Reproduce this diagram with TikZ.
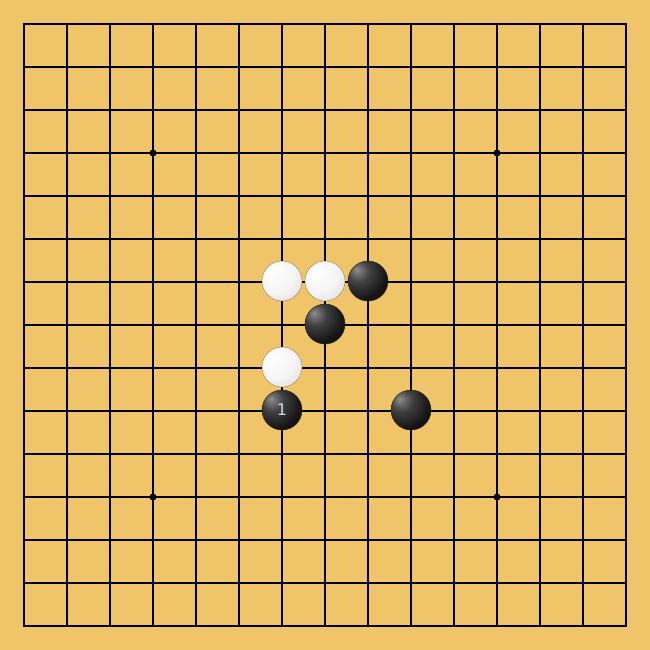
\documentclass[tikz,border=0pt]{standalone}
\usepackage{fontspec}
\setmainfont{DejaVu Sans}
\usetikzlibrary{shadings}
\definecolor{wood}{RGB}{240,196,104}
\definecolor{numcol}{RGB}{200,220,235}
\pgfdeclareradialshading{wst}{\pgfpoint{-12bp}{12bp}}{color(0bp)=(white); color(24bp)=(white!96!black); color(46bp)=(white!84!black); color(67bp)=(white!66!black); color(100bp)=(white!60!black)}
\pgfdeclareradialshading{bst}{\pgfpoint{-14bp}{14bp}}{color(0bp)=(black!45); color(14bp)=(black!75); color(32bp)=(black!92); color(67bp)=(black!97); color(100bp)=(black)}
\tikzset{
  gridline/.style={line width=1.1pt, black},
  frame/.style={line width=2.2pt, black},
  star/.style={circle, fill=black, inner sep=0pt, minimum size=7pt},
  bstone/.style={circle, minimum size=40pt, inner sep=0pt, draw=black!80!brown, line width=0.4pt,
     shading=bst},
  wstone/.style={circle, minimum size=40pt, inner sep=0pt, draw=gray!60!brown, line width=0.4pt,
     shading=wst},
  numlabel/.style={text=numcol, font=\fontsize{16}{16}\selectfont}
}
\begin{document}
\begin{tikzpicture}[x=1pt,y=-1pt]
\useasboundingbox (0,0) rectangle (650,650);
\fill[wood] (0,0) rectangle (650,650);
\foreach \i in {1,...,13} {
  \draw[gridline] (24+43*\i,24) -- (24+43*\i,626);
  \draw[gridline] (24,24+43*\i) -- (626,24+43*\i);
}
\draw[frame] (24,24) rectangle (626,626);
\node[star] (s1) at (153,153) {};
\node[star] (s2) at (497,153) {};
\node[star] (s3) at (153,497) {};
\node[star] (s4) at (497,497) {};
\node[wstone] (w1) at (282,281) {};
\node[wstone] (w2) at (325,281) {};
\node[bstone] (b1) at (368,281) {};
\node[bstone] (b2) at (325,324) {};
\node[wstone] (w3) at (282,367) {};
\node[bstone] (b3) at (282,410) {};
\node[bstone] (b4) at (411,410) {};
\node[numlabel] (n1) at (b3) {1};
\end{tikzpicture}
\end{document}
